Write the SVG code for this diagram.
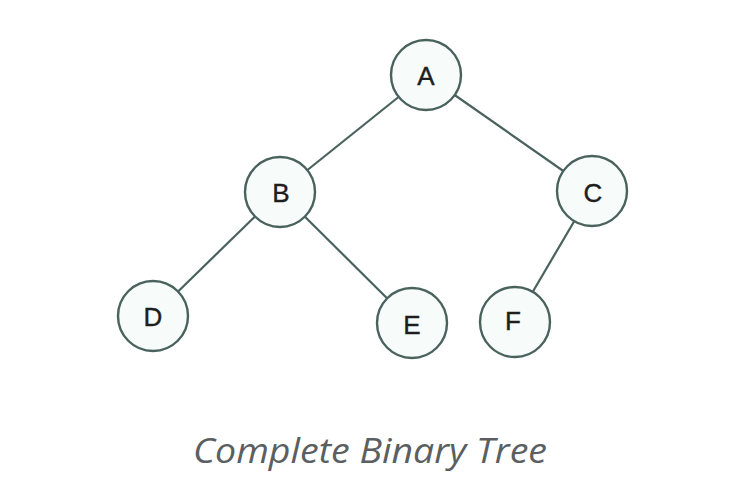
<svg xmlns="http://www.w3.org/2000/svg" width="751" height="493" viewBox="0 0 751 493">
<style>
.edge{stroke:#4a625c;stroke-width:2.2;fill:none}
.node circle{fill:#f7fbf9;stroke:#4a625c;stroke-width:2.4}
.node text{font-family:"Liberation Sans",Arial,sans-serif;font-size:26px;fill:#1e1e1e;stroke:#1e1e1e;stroke-width:0.4;text-anchor:middle;dominant-baseline:central}
.cap{font-family:"Open Sans","Noto Sans",sans-serif;font-style:italic;font-size:35px;fill:#5c5f62}
</style>
<rect width="751" height="493" fill="#ffffff"/>
<g id="connectors">
<line class="edge" x1="426" y1="75" x2="280" y2="192"/>
<line class="edge" x1="426" y1="75" x2="592" y2="191"/>
<line class="edge" x1="280" y1="192" x2="153" y2="316"/>
<line class="edge" x1="280" y1="192" x2="412" y2="323"/>
<line class="edge" x1="592" y1="191" x2="515" y2="322"/>
</g>
<g id="node-A" class="node"><circle cx="426" cy="75" r="35"/><text x="426" y="76">A</text></g>
<g id="node-B" class="node"><circle cx="280" cy="192" r="35"/><text x="281" y="193">B</text></g>
<g id="node-C" class="node"><circle cx="592" cy="191" r="35"/><text x="593" y="193">C</text></g>
<g id="node-D" class="node"><circle cx="153" cy="316" r="35"/><text x="153" y="317">D</text></g>
<g id="node-E" class="node"><circle cx="412" cy="323" r="35"/><text x="412" y="325">E</text></g>
<g id="node-F" class="node"><circle cx="515" cy="322" r="35"/><text x="513" y="321">F</text></g>
<text class="cap" x="193" y="463" textLength="354" lengthAdjust="spacingAndGlyphs">Complete Binary Tree</text>
</svg>
